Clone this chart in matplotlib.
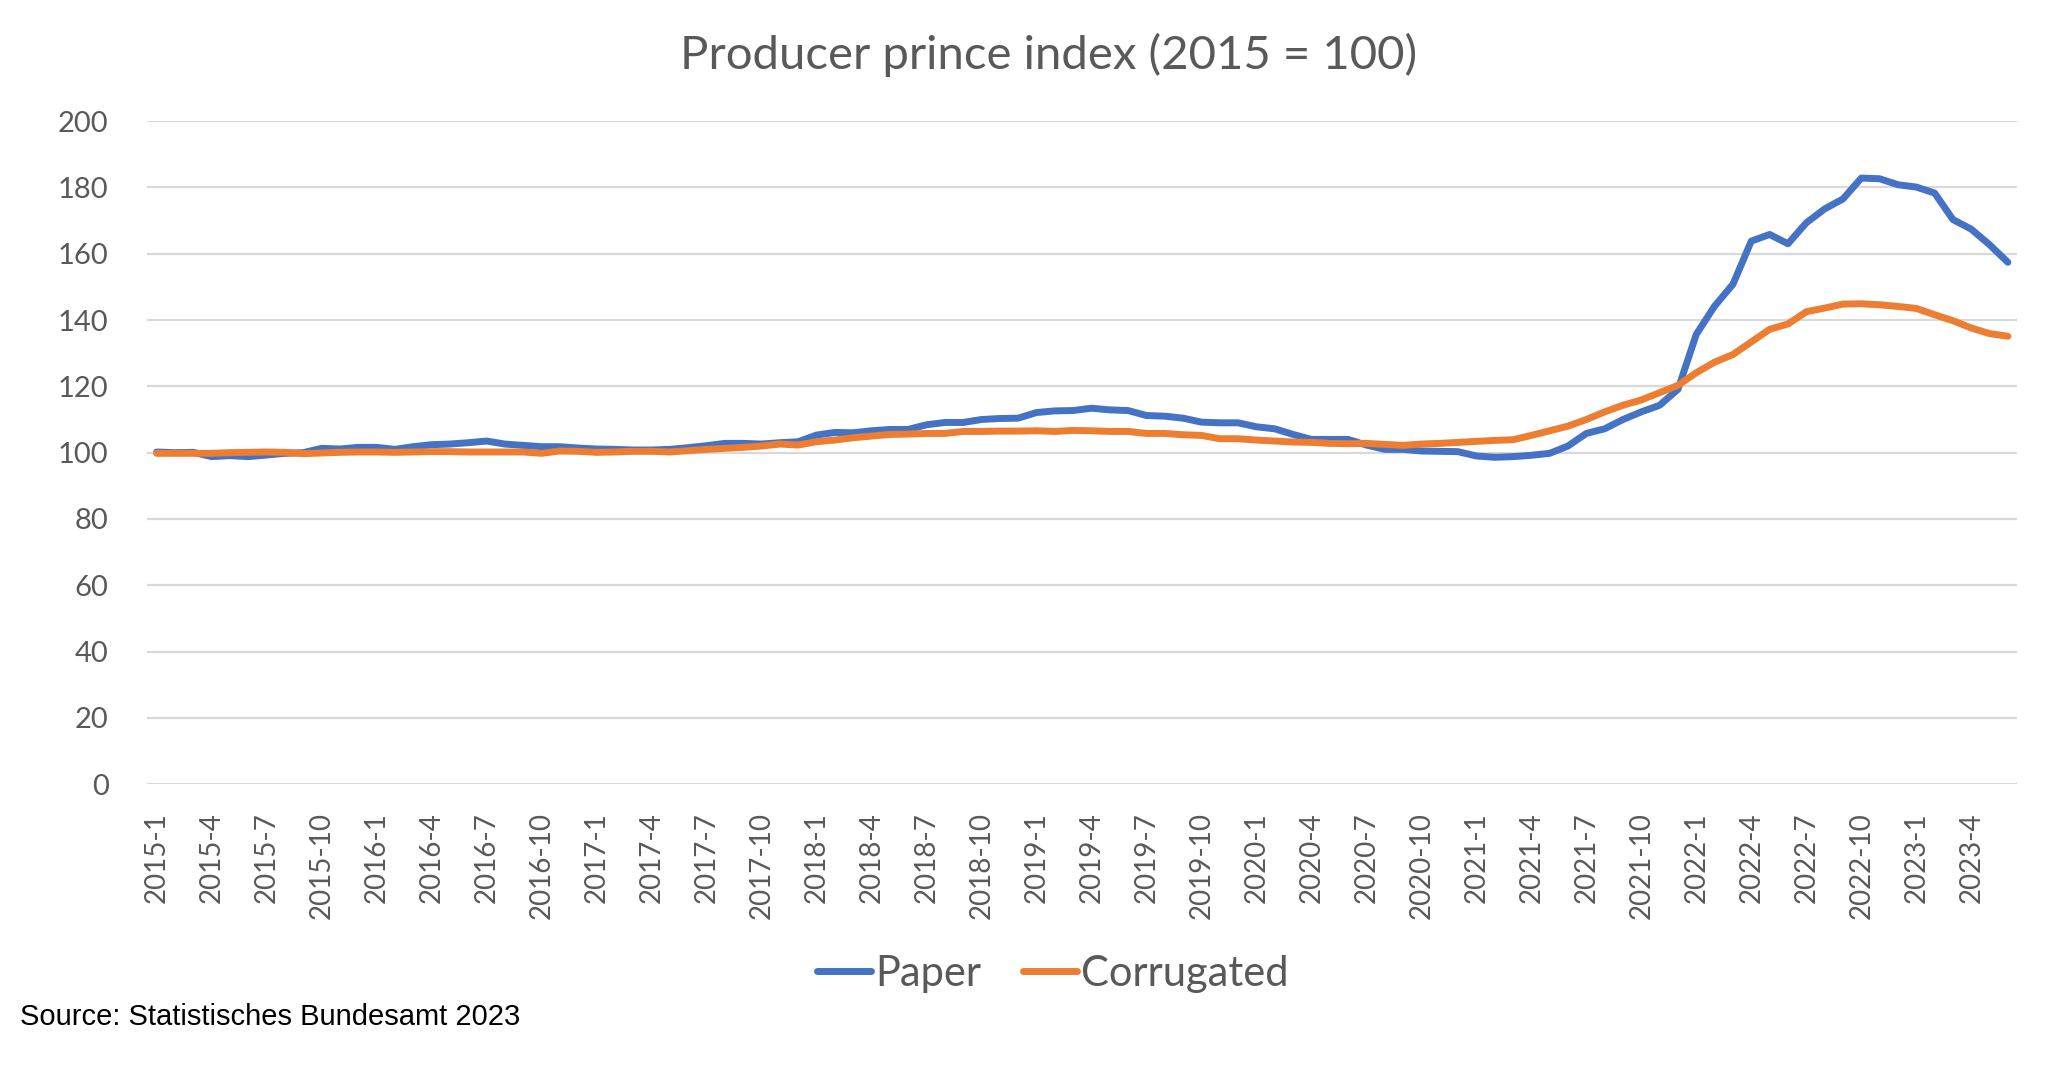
import matplotlib.pyplot as plt

# monthly index values, 2015-1 .. 2023-6 (2015 = 100)
years = list(range(2015, 2024))
paper = [100.2, 100.0, 100.1, 98.8, 99.1, 98.8, 99.3, 99.8, 100.0, 101.3, 101.1, 101.6,
         101.6, 101.0, 101.8, 102.4, 102.6, 103.0, 103.5, 102.6, 102.2, 101.8, 101.8, 101.4,
         101.1, 101.0, 100.8, 100.8, 101.0, 101.5, 102.1, 102.8, 102.8, 102.6, 103.0, 103.3,
         105.3, 106.1, 106.0, 106.6, 107.0, 107.0, 108.4, 109.1, 109.1, 110.0, 110.3, 110.4,
         112.1, 112.6, 112.7, 113.4, 112.9, 112.7, 111.2, 111.0, 110.4, 109.2, 109.0, 109.0,
         107.8, 107.2, 105.5, 104.0, 104.0, 104.0, 102.3, 101.0, 101.0, 100.5, 100.4, 100.3,
         99.0, 98.6, 98.8, 99.2, 99.8, 102.0, 105.8, 107.2, 110.0, 112.3, 114.3, 119.1,
         135.7, 144.2, 150.8, 163.8, 165.8, 163.0, 169.3, 173.5, 176.5, 182.8, 182.6, 180.8,
         180.1, 178.3, 170.3, 167.4, 162.7, 157.4]
corrugated = [99.8, 99.8, 99.8, 99.8, 100.0, 100.1, 100.2, 100.1, 99.7, 99.9, 100.1, 100.2,
              100.2, 100.1, 100.2, 100.3, 100.3, 100.2, 100.2, 100.2, 100.2, 99.8, 100.5, 100.4,
              100.1, 100.2, 100.4, 100.4, 100.2, 100.6, 101.0, 101.3, 101.6, 102.0, 102.6, 102.3,
              103.3, 103.8, 104.5, 105.0, 105.5, 105.6, 105.8, 105.8, 106.4, 106.4, 106.5, 106.5,
              106.6, 106.4, 106.7, 106.6, 106.4, 106.4, 105.8, 105.8, 105.4, 105.2, 104.2, 104.2,
              103.8, 103.5, 103.2, 103.1, 102.8, 102.7, 102.8, 102.5, 102.2, 102.6, 102.8, 103.1,
              103.4, 103.7, 103.9, 105.2, 106.6, 108.0, 110.0, 112.3, 114.3, 115.9, 118.1, 120.3,
              124.1, 127.3, 129.6, 133.4, 137.2, 138.8, 142.5, 143.6, 144.8, 144.9, 144.6, 144.1,
              143.5, 141.6, 139.8, 137.6, 135.9, 135.1]

labels = [f"{y}-{m}" for y in years for m in range(1, 13)][:len(paper)]
x = list(range(len(paper)))

grey = '#595959'
font = 'Lato'

fig = plt.figure(figsize=(20.48, 10.77), dpi=100)
ax = fig.add_axes([0.072, 0.2718, 0.9129, 0.6158])

ax.plot(x, paper, color='#4472C4', lw=5.0, label='Paper', solid_capstyle='round')
ax.plot(x, corrugated, color='#ED7D31', lw=5.0, label='Corrugated', solid_capstyle='round')

ax.set_ylim(0, 200)
ax.set_yticks(range(0, 201, 20))
ax.set_xlim(-0.5, len(paper) - 0.5)
ax.set_xticks(x[::3])
ax.set_xticklabels(labels[::3], rotation=90, fontsize=20, color=grey, family=font)
for t in ax.get_yticklabels():
    t.set_fontsize(21)
    t.set_color(grey)
    t.set_family(font)

ax.grid(axis='y', color='#d9d9d9', lw=1.6)
ax.set_axisbelow(True)
for s in ax.spines.values():
    s.set_visible(False)
ax.tick_params(length=0)
ax.tick_params(axis='y', pad=28)
ax.tick_params(axis='x', pad=20)

fig.text(0.512, 0.949, 'Producer prince index (2015 = 100)', ha='center', va='center',
         fontsize=34, color=grey, family=font)

fig.legend(loc='center', bbox_to_anchor=(0.514, 0.096), ncol=2, frameon=False,
           prop={'family': font, 'size': 30}, labelcolor=grey,
           handlelength=1.3, handletextpad=0.1, columnspacing=1.0)

fig.text(0.01, 0.056, 'Source: Statistisches Bundesamt 2023', ha='left', va='center',
         fontsize=21, color='black', family='Liberation Sans')

fig.savefig('out.png', dpi=100)
